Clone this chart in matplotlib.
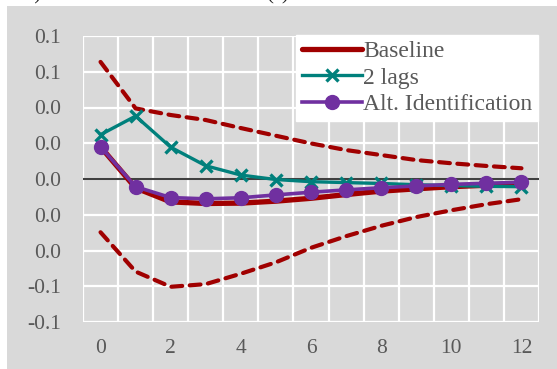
import numpy as np
import matplotlib
matplotlib.use("Agg")
from matplotlib import pyplot as plt
from matplotlib.patches import Rectangle

# horizon (periods after the shock)
horizon = list(range(13))

baseline = [0.0180, -0.0050, -0.0128, -0.0137, -0.0135, -0.0124, -0.0108,
            -0.0087, -0.0068, -0.0055, -0.0043, -0.0035, -0.0027]
upper = [0.0655, 0.0395, 0.0358, 0.0330, 0.0285, 0.0242, 0.0199,
         0.0162, 0.0134, 0.0106, 0.0088, 0.0073, 0.0060]
lower = [-0.0298, -0.0518, -0.0603, -0.0588, -0.0530, -0.0466, -0.0385,
         -0.0320, -0.0262, -0.0213, -0.0175, -0.0141, -0.0113]
two_lags = [0.0248, 0.0352, 0.0178, 0.0074, 0.0022, -0.0003, -0.0015,
            -0.0020, -0.0025, -0.0032, -0.0037, -0.0041, -0.0043]
alt_ident = [0.0180, -0.0043, -0.0104, -0.0111, -0.0105, -0.0089, -0.0074,
             -0.0061, -0.0049, -0.0039, -0.0030, -0.0024, -0.0018]

yticks = [-0.08, -0.06, -0.04, -0.02, 0.0, 0.02, 0.04, 0.06, 0.08]
ytick_labels = ['-0.1', '-0.1', '0.0', '0.0', '0.0', '0.0', '0.0', '0.1', '0.1']
xticks = [0, 2, 4, 6, 8, 10, 12]

red = '#a00000'
teal = '#00807c'
purple = '#7030a0'
grey = '#d9d9d9'

plt.rcParams['font.family'] = ['Liberation Serif', 'DejaVu Serif']

fig = plt.figure(figsize=(5.57, 3.69), dpi=100)
fig.patches.append(Rectangle((7 / 557, 0), 1, 1 - 6 / 369, transform=fig.transFigure,
                             facecolor=grey, edgecolor='none', zorder=-10))

# title line, mostly cut off at the top edge
fig.text(24 / 557, 1 + 1 / 369, "b)", fontsize=15, va='baseline', color='#222222')
fig.text(278 / 557, 1 + 1 / 369, "($t$)", fontsize=15, va='baseline', ha='center', color='#222222')

ax = fig.add_axes([83 / 557, 1 - 322 / 369, (539 - 83) / 557, (322 - 36) / 369])
ax.set_facecolor(grey)
for s in ax.spines.values():
    s.set_visible(False)

ax.set_xlim(-0.5, 12.5)
ax.set_ylim(-0.08, 0.08)
ax.set_yticks(yticks)
ax.set_yticklabels(ytick_labels)
ax.set_xticks(xticks)
ax.set_xticks(np.arange(-0.5, 13, 1.0), minor=True)
ax.tick_params(axis='both', which='both', length=0, labelsize=15.5, colors='#595959')
ax.tick_params(axis='y', pad=16)
ax.tick_params(axis='x', pad=12)
ax.grid(True, axis='y', which='major', color='white', lw=1.6)
ax.grid(True, axis='x', which='minor', color='white', lw=1.6)
ax.set_axisbelow(True)

ax.axhline(0, color='#404040', lw=1.5, zorder=1)

ax.plot(horizon, baseline, color=red, lw=3.8, solid_capstyle='round', label='Baseline', zorder=2)
ax.plot(horizon, upper, color=red, lw=3.0, dashes=(2.6, 1.8), dash_capstyle='round', zorder=2)
ax.plot(horizon, lower, color=red, lw=3.0, dashes=(2.6, 1.8), dash_capstyle='round', zorder=2)
ax.plot(horizon, two_lags, color=teal, lw=2.4, marker='x', ms=9, mew=2.4, label='2 lags', zorder=3)
ax.plot(horizon, alt_ident, color=purple, lw=2.6, marker='o', ms=10, label='Alt. Identification', zorder=4)

leg = fig.legend(loc='upper right', bbox_to_anchor=(538 / 557, 1 - 35 / 369),
                 fontsize=17, frameon=True, fancybox=False, framealpha=1,
                 handlelength=2.55, handletextpad=0.05, borderpad=0.25,
                 labelspacing=0.2, borderaxespad=0)
leg.get_frame().set_edgecolor('white')
leg.get_frame().set_facecolor('white')
for t in leg.get_texts():
    t.set_color('#595959')

fig.savefig('out.png', dpi=100)
